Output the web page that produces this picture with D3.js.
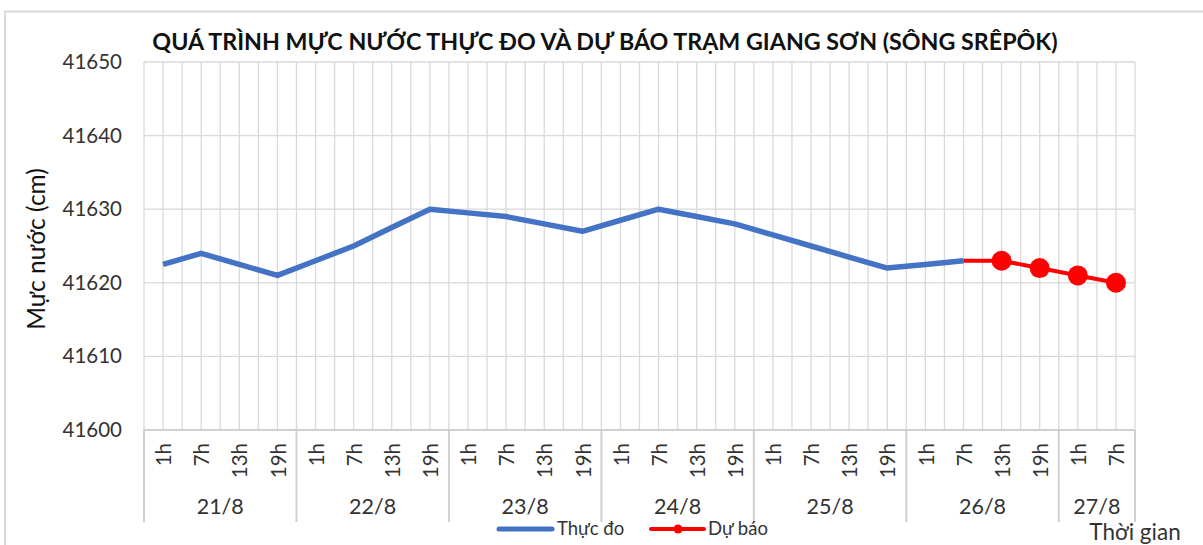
<!DOCTYPE html>
<html>
<head>
<meta charset="utf-8">
<script src="https://cdn.jsdelivr.net/npm/d3@7"></script>
<style>
  html, body { margin: 0; padding: 0; background: #fff; }
  svg { display: block; font-family: Lato, "Noto Sans", sans-serif; }
</style>
</head>
<body>
<svg id="chart" width="1203" height="545"></svg>
<script>
// ---- data ----
const days = ["21/8", "22/8", "23/8", "24/8", "25/8", "26/8", "27/8"];
const hoursPerDay = [["1h","7h","13h","19h"],["1h","7h","13h","19h"],["1h","7h","13h","19h"],["1h","7h","13h","19h"],["1h","7h","13h","19h"],["1h","7h","13h","19h"],["1h","7h"]];
const observed = [41622.5, 41624, 41622.5, 41621,
                  41623, 41625, 41627.5, 41630,
                  41629.5, 41629, 41628, 41627,
                  41628.5, 41630, 41629, 41628,
                  41626.5, 41625, 41623.5, 41622,
                  41622.5, 41623];
const forecastStart = 21; // index of 26/8 7h
const forecast = [41623, 41623, 41622, 41621, 41620];
const yTicks = [41600, 41610, 41620, 41630, 41640, 41650];
const seriesNames = ["Thực đo", "Dự báo"];
const titleText = "QUÁ TRÌNH MỰC NƯỚC THỰC ĐO VÀ DỰ BÁO TRẠM GIANG SƠN (SÔNG SRÊPÔK)";
const yTitle = "Mực nước (cm)";
const xTitle = "Thời gian";

// ---- build categories ----
const cats = [];
hoursPerDay.forEach((hs, di) => hs.forEach(h => cats.push({ day: di, hour: h, key: days[di] + " " + h })));

const svg = d3.select("#chart");
const L = 144, R = 1135, T = 62, B = 430;
const x = d3.scaleBand().domain(cats.map(c => c.key)).range([L, R]).padding(0);
const y = d3.scaleLinear().domain([41600, 41650]).range([B, T]);
const bw = x.bandwidth();
const cx = k => x(k) + bw / 2;

const grid = "#d9d9d9";
const textCol = "#333333";

// outer chart border
svg.append("rect").attr("x", 5).attr("y", 11.5).attr("width", 1210).attr("height", 560)
  .attr("fill", "none").attr("stroke", "#d9d9d9").attr("stroke-width", 2);

// vertical gridlines (boundaries and centers)
const vlines = [];
cats.forEach(c => { vlines.push(x(c.key)); vlines.push(cx(c.key)); });
vlines.push(R);
svg.append("g").selectAll("line").data(vlines).join("line")
  .attr("x1", d => d).attr("x2", d => d).attr("y1", T).attr("y2", B)
  .attr("stroke", grid).attr("stroke-width", 1.3);

// horizontal gridlines
svg.append("g").selectAll("line").data(yTicks).join("line")
  .attr("x1", L).attr("x2", R).attr("y1", d => y(d)).attr("y2", d => y(d))
  .attr("stroke", grid).attr("stroke-width", 1.3);

// y axis labels
const yAxis = d3.axisLeft(y).tickValues(yTicks).tickSize(0).tickPadding(22).tickFormat(d3.format("d"));
const ya = svg.append("g").attr("transform", `translate(${L},0)`).call(yAxis);
ya.select(".domain").remove();
ya.selectAll("text").attr("font-size", 20.5).attr("fill", textCol).attr("font-family", "Lato, 'Noto Sans', sans-serif");

// x axis line
svg.append("line").attr("x1", L).attr("x2", R).attr("y1", B).attr("y2", B)
  .attr("stroke", "#d0d0d0").attr("stroke-width", 2);

// group separators
const firstIdx = [];
let acc = 0;
hoursPerDay.forEach(hs => { firstIdx.push(acc); acc += hs.length; });
const seps = firstIdx.map(i => x(cats[i].key)).concat([R]);
svg.append("g").selectAll("line").data(seps).join("line")
  .attr("x1", d => d).attr("x2", d => d).attr("y1", B).attr("y2", 522)
  .attr("stroke", "#d0d0d0").attr("stroke-width", 2);

// hour labels
svg.append("g").selectAll("text").data(cats).join("text")
  .attr("transform", d => `translate(${cx(d.key) + 1},443) rotate(-90)`)
  .attr("text-anchor", "end").attr("dy", "0.35em")
  .attr("font-size", 20.5).attr("fill", textCol)
  .text(d => d.hour);

// day labels
svg.append("g").selectAll("text").data(days).join("text")
  .attr("x", (d, i) => (seps[i] + seps[i + 1]) / 2).attr("y", 514)
  .attr("text-anchor", "middle").attr("font-size", 21.5).attr("fill", textCol)
  .text(d => d);

// observed line
const obsPts = observed.map((v, i) => ({ k: cats[i].key, v }));
const line = d3.line().x(d => cx(d.k)).y(d => y(d.v));
svg.append("path").datum(obsPts).attr("d", line)
  .attr("fill", "none").attr("stroke", "#4472C4").attr("stroke-width", 5.5)
  .attr("stroke-linejoin", "round");

// forecast line
const fcPts = forecast.map((v, i) => ({ k: cats[forecastStart + i].key, v }));
svg.append("path").datum(fcPts).attr("d", line)
  .attr("fill", "none").attr("stroke", "#FF0000").attr("stroke-width", 4)
  .attr("stroke-linejoin", "round");
svg.append("g").selectAll("circle").data(fcPts.slice(1)).join("circle")
  .attr("cx", d => cx(d.k)).attr("cy", d => y(d.v)).attr("r", 10).attr("fill", "#FF0000");

// title
const tt = svg.append("text").attr("x", 605).attr("y", 50).attr("text-anchor", "middle")
  .attr("font-weight", "bold").attr("font-size", 20).attr("fill", "#111").text(titleText);
const tw = tt.node().getComputedTextLength();
tt.attr("font-size", 20 * 906 / tw);

// y axis title
svg.append("text").attr("transform", "translate(36,249) rotate(-90)")
  .attr("text-anchor", "middle").attr("dy", "0.35em").attr("font-size", 24.5).attr("fill", "#111")
  .text(yTitle);

// x axis title
svg.append("text").attr("x", 1135).attr("y", 540).attr("text-anchor", "middle")
  .attr("font-size", 22.5).attr("fill", textCol).text(xTitle);

// legend
const lg = svg.append("g");
lg.append("line").attr("x1", 499).attr("x2", 552).attr("y1", 529).attr("y2", 529)
  .attr("stroke", "#4472C4").attr("stroke-width", 5).attr("stroke-linecap", "round");
lg.append("text").attr("x", 557).attr("y", 535).attr("font-size", 18.5).attr("fill", textCol).text(seriesNames[0]);
lg.append("line").attr("x1", 651).attr("x2", 704).attr("y1", 529).attr("y2", 529)
  .attr("stroke", "#FF0000").attr("stroke-width", 4).attr("stroke-linecap", "round");
lg.append("circle").attr("cx", 678).attr("cy", 529).attr("r", 4.5).attr("fill", "#FF0000");
lg.append("text").attr("x", 708).attr("y", 535).attr("font-size", 18.5).attr("fill", textCol).text(seriesNames[1]);
</script>
</body>
</html>
